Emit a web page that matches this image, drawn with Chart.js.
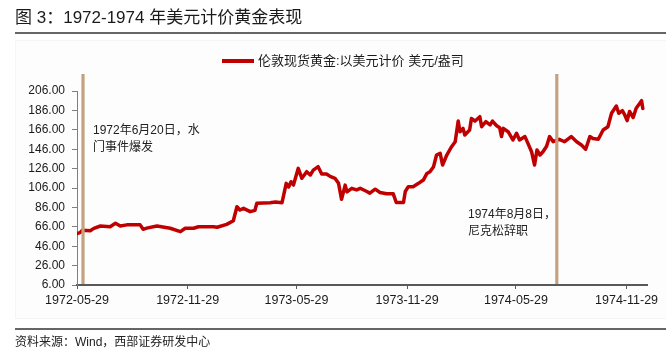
<!DOCTYPE html>
<html><head><meta charset="utf-8">
<script src="https://cdn.jsdelivr.net/npm/chart.js@4.4.1/dist/chart.umd.min.js"></script>
<style>html,body{margin:0;padding:0;background:#fff;}#wrap{width:666px;height:356px;position:relative;}canvas{display:block;}</style>
</head><body><div id="wrap"><canvas id="c" width="666" height="356"></canvas></div>
<script>
const titleText = '图 3：1972-1974 年美元计价黄金表现';
const seriesName = '伦敦现货黄金:以美元计价 美元/盎司';
const sourceText = '资料来源：Wind，西部证券研发中心';
const startDate = '1972-05-29';

// days since 1972-05-29
const days = [0,5,9,22,28,39,55,64,72,83,105,110,116,133,155,172,180,194,202,227,233,249,260,266,271,277,288,296,299,321,
  330,341,348,352,356,360,368,374,382,388,393,401,407,415,421,429,435,440,446,449,457,465,471,482,487,496,504,515,526,531,543,546,
  551,559,568,576,582,587,593,598,604,608,615,623,629,634,637,642,645,653,656,662,670,673,680,687,691,698,703,706,709,717,725,731,
  736,745,750,756,761,765,770,775,781,786,792,802,811,822,831,839,846,853,858,867,875,883,889,897,901,907,911,915,919,925,930,936,939,941];
// USD / oz
const prices = [59,60,62.5,62,64.4,66.8,66,69.6,66.8,68,68,63.4,64.6,66.8,64.5,61,64.5,64.5,66,66,65.5,68.5,72.3,86.7,83.3,85,81.6,83,90.2,90.9,
  91.5,90.9,110.8,107,112.5,109,126.3,116,122.8,119.4,124.5,128,120.4,120.4,118,116,110.8,94.3,109,102,105.7,104,105.7,102.4,100.7,104.8,101.4,100,100,91,91,102.4,
  107.4,107.4,110.8,114.2,121,122.8,128,140,141.8,129.7,140,148.6,153.7,175,164,167.5,160.6,165.8,177.7,175,179.5,169.2,174.4,171,175,170.2,168.2,159,167.5,164,155.5,162.4,
  155.5,159,152,143.4,129.7,145.2,140,143.4,149,159,153.7,156.2,153.7,159,153.7,150.3,146,159,157,156.2,165.8,169.2,183,190.5,183,185.7,181.3,175.4,184.9,178.7,188.2,193.3,196,188];

const xTickLabels = ['1972-05-29','1972-11-29','1973-05-29','1973-11-29','1974-05-29','1974-11-29'];
const yTickValues = [6,26,46,66,86,106,126,146,166,186,206];
const markerDays = [10, 798];
const markerNotes = [['1972年6月20日，水','门事件爆发'], ['1974年8月8日，','尼克松辞职']];

const FONT = '"Liberation Sans", "Noto Sans CJK SC", sans-serif';
const RED = '#c00000';
const TAN = '#c4a27f';
const dayOf = s => Math.round((Date.parse(s) - Date.parse(startDate)) / 86400000);
const xTickDays = xTickLabels.map(dayOf);

const deco = {
  id: 'deco',
  beforeDraw(chart) {
    const ctx = chart.ctx;
    ctx.save();
    ctx.fillStyle = '#fff';
    ctx.fillRect(0, 0, chart.width, chart.height);
    ctx.fillStyle = '#fdfdfd';
    ctx.fillRect(15, 40, 651, 279);
    ctx.strokeStyle = '#f5f5f5'; ctx.lineWidth = 1;
    ctx.strokeRect(15.5, 40.5, 660, 278);
    ctx.fillStyle = '#1a1a1a';
    ctx.font = '17px ' + FONT;
    ctx.textBaseline = 'middle'; ctx.textAlign = 'left';
    ctx.fillText(titleText, 15, 18);
    ctx.strokeStyle = '#333'; ctx.lineWidth = 1.5;
    ctx.beginPath(); ctx.moveTo(15, 33); ctx.lineTo(666, 33); ctx.stroke();
    ctx.beginPath(); ctx.moveTo(15, 329); ctx.lineTo(666, 329); ctx.stroke();
    ctx.fillStyle = '#222';
    ctx.font = '12px ' + FONT;
    ctx.fillText(sourceText, 15, 343);
    ctx.restore();
  },
  afterDatasetsDraw(chart) {
    const ctx = chart.ctx, xs = chart.scales.x, area = chart.chartArea;
    ctx.save();
    ctx.strokeStyle = TAN; ctx.lineWidth = 3.2;
    markerDays.forEach(d => {
      const px = xs.getPixelForValue(d);
      ctx.beginPath(); ctx.moveTo(px, 74); ctx.lineTo(px, area.bottom - 1); ctx.stroke();
    });
    ctx.restore();
  },
  afterDraw(chart) {
    const ctx = chart.ctx;
    ctx.save();
    // legend
    ctx.strokeStyle = chart.data.datasets[0].borderColor; ctx.lineWidth = 4;
    ctx.beginPath(); ctx.moveTo(222, 61); ctx.lineTo(254, 61); ctx.stroke();
    ctx.fillStyle = '#1a1a1a'; ctx.font = '13px ' + FONT;
    ctx.textBaseline = 'middle'; ctx.textAlign = 'left';
    ctx.fillText(chart.data.datasets[0].label, 258, 61);
    // notes
    ctx.font = '12px ' + FONT; ctx.fillStyle = '#222';
    ctx.fillText(markerNotes[0][0], 93, 131);
    ctx.fillText(markerNotes[0][1], 93, 148);
    ctx.fillText(markerNotes[1][0], 468, 215);
    ctx.fillText(markerNotes[1][1], 468, 232);
    ctx.restore();
  }
};

new Chart(document.getElementById('c'), {
  type: 'line',
  data: {
    datasets: [{
      label: seriesName,
      data: days.map((d, i) => ({x: d, y: prices[i]})),
      borderColor: RED, backgroundColor: RED,
      borderWidth: 3.5, pointRadius: 0, tension: 0, fill: false,
      borderJoinStyle: 'round', borderCapStyle: 'round'
    }]
  },
  options: {
    responsive: false, animation: false, devicePixelRatio: 1,
    layout: {padding: {left: 0, right: 19, top: 91, bottom: 41}},
    plugins: {legend: {display: false}, tooltip: {enabled: false}, title: {display: false}},
    scales: {
      x: {
        type: 'linear', min: 0, max: 948,
        afterBuildTicks: s => { s.ticks = xTickDays.map(v => ({value: v})); },
        afterFit: s => { s.height = 30; },
        ticks: {
          callback: v => { const i = xTickDays.indexOf(v); return i >= 0 ? xTickLabels[i] : ''; },
          font: {family: FONT, size: 12.5}, color: '#1a1a1a', padding: 4,
          maxRotation: 0, autoSkip: false
        },
        grid: {display: true, drawOnChartArea: false, drawTicks: true, tickLength: 4, color: '#595959', lineWidth: 1},
        border: {display: true, color: '#595959', width: 2}
      },
      y: {
        min: 6, max: 206,
        afterBuildTicks: s => { s.ticks = yTickValues.map(v => ({value: v})); },
        afterFit: s => { s.width = 77; },
        ticks: {callback: v => Number(v).toFixed(2), font: {family: FONT, size: 12}, color: '#1a1a1a', padding: 7},
        grid: {display: true, drawOnChartArea: false, drawTicks: true, tickLength: 5, color: '#7f7f7f', lineWidth: 1},
        border: {display: true, color: '#7f7f7f', width: 1}
      }
    }
  },
  plugins: [deco]
});
</script></body></html>
